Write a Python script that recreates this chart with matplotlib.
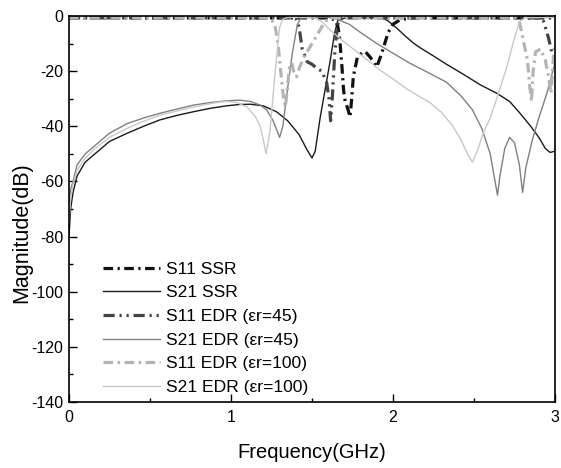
import matplotlib
matplotlib.use("Agg")
import matplotlib.pyplot as plt
from matplotlib.ticker import MultipleLocator

plt.rcParams['font.family'] = ['Liberation Sans', 'DejaVu Sans']
plt.rcParams['axes.unicode_minus'] = False

# ---- data ----
s21_ssr_x = [0.0, 0.01, 0.025, 0.05, 0.1, 0.15, 0.25, 0.36, 0.46, 0.56, 0.67, 0.77, 0.87, 0.97,
             1.05, 1.12, 1.2, 1.28, 1.35, 1.42, 1.47, 1.5, 1.52, 1.55, 1.58, 1.61, 1.64, 1.66,
             1.7, 1.8, 1.9, 1.94, 1.97, 2.02, 2.08, 2.13, 2.17, 2.25, 2.33, 2.43, 2.54, 2.64,
             2.72, 2.78, 2.85, 2.9, 2.94, 2.97, 3.0]
s21_ssr_y = [-80, -70, -64, -58, -53, -50.5, -45.5, -42.5, -40, -37.7, -36, -34.7, -33.5, -32.6,
             -32.1, -32.0, -32.6, -34.7, -38, -43, -48.6, -51.5, -49, -37, -27, -17, -6, -1.5,
             -0.8, -0.7, -0.6, -0.8, -1.8, -4.2, -7.5, -10, -11.6, -14.5, -17.5, -21, -25, -28,
             -31, -35, -40, -44, -48, -49.5, -49]

s21_e45_x = [0.0, 0.01, 0.025, 0.05, 0.1, 0.15, 0.25, 0.36, 0.46, 0.56, 0.67, 0.77, 0.87, 0.97,
             1.05, 1.12, 1.18, 1.22, 1.26, 1.3, 1.32, 1.35, 1.38, 1.41, 1.43, 1.5, 1.6, 1.65,
             1.7, 1.73, 1.8, 1.9, 2.0, 2.1, 2.2, 2.33, 2.42, 2.49, 2.55, 2.6, 2.63, 2.645,
             2.66, 2.69, 2.72, 2.75, 2.78, 2.8, 2.82, 2.86, 2.9, 2.95, 3.0]
s21_e45_y = [-68, -63, -60, -54, -50, -47.5, -42.5, -39, -37, -35.3, -33.7, -32.3, -31.4, -30.8,
             -30.5, -31, -32.3, -34, -38, -44, -40, -26, -13, -3, -0.8, -0.5, -0.5, -1,
             -2.3, -3, -6, -10, -13.5, -17, -20, -24, -29, -34, -41, -50, -60, -65,
             -58, -48, -44, -46, -54, -64, -55, -45, -37, -28, -17]

s21_e100_x = [0.0, 0.01, 0.025, 0.05, 0.1, 0.15, 0.25, 0.36, 0.46, 0.56, 0.67, 0.77, 0.87, 0.93,
              0.98, 1.03, 1.1, 1.15, 1.18, 1.2, 1.216, 1.24, 1.27, 1.3, 1.32, 1.35, 1.45, 1.52,
              1.56, 1.61, 1.7, 1.8, 1.92, 2.1, 2.23, 2.3, 2.37, 2.42, 2.46, 2.49, 2.52, 2.56,
              2.6, 2.64, 2.7, 2.75, 2.78, 2.82, 3.0]
s21_e100_y = [-75, -66, -61, -56, -51.5, -48.6, -44, -40.7, -38.2, -36, -34.4, -33, -31.8, -31.2,
              -31, -31.3, -33, -36.5, -40, -45, -50, -42, -22, -4, -1.2, -0.5, -0.5, -0.8,
              -2, -5, -9.5, -14, -19.6, -27, -31.5, -35, -40, -45, -50, -53, -49, -42,
              -37, -30, -19, -8, -2, -0.6, -0.6]

s11_ssr_x = [0.0, 1.6, 1.62, 1.645, 1.66, 1.67, 1.685, 1.695, 1.705, 1.72, 1.735, 1.745, 1.755,
             1.78, 1.81, 1.83, 1.86, 1.9, 1.93, 1.97, 2.0, 2.04, 2.1, 3.0]
s11_ssr_y = [-0.7, -0.7, -0.9, -1.5, -4, -7.6, -18.5, -27, -31, -33.5, -36.6, -30, -22,
             -15, -13.2, -13, -15, -18.5, -13.6, -6, -3, -1.5, -0.7, -0.7]

s11_e45_x = [0.0, 1.38, 1.40, 1.42, 1.44, 1.47, 1.50, 1.53, 1.56, 1.59, 1.605, 1.615, 1.625,
             1.64, 1.655, 1.67, 1.7, 2.9, 2.93, 2.96, 2.98, 3.0]
s11_e45_y = [-0.7, -0.7, -1, -4, -12, -16.6, -17.5, -19, -20, -24, -30, -38, -30,
             -14, -4, -1, -0.7, -0.7, -2, -8, -13, -16]

s11_e100_x = [0.0, 1.24, 1.27, 1.29, 1.31, 1.325, 1.335, 1.345, 1.36, 1.375, 1.39, 1.405, 1.42,
              1.45, 1.5, 1.55, 1.58, 1.62, 2.76, 2.78, 2.80, 2.83, 2.845, 2.855, 2.865, 2.88,
              2.91, 2.94, 2.96, 2.975, 2.99, 3.0]
s11_e100_y = [-0.7, -0.7, -3, -10, -22, -30, -33, -28, -19, -17, -21, -22, -19,
              -15, -10, -5, -2, -0.7, -0.7, -2, -7.6, -16, -26, -31, -20, -13,
              -12, -16, -22, -28, -15, -10]

labels = ["S11 SSR", "S21 SSR", "S11 EDR (\u03b5r=45)", "S21 EDR (\u03b5r=45)",
          "S11 EDR (\u03b5r=100)", "S21 EDR (\u03b5r=100)"]

fig = plt.figure(figsize=(5.61, 4.68), dpi=100)
ax = fig.add_axes([69/561, 1-402/468, (555-69)/561, (402-16)/468])

ax.plot(s11_ssr_x, s11_ssr_y, color="#111111", lw=2.3, ls=(0, (3, 1.4, 0.7, 1.4)), label=labels[0])
ax.plot(s21_ssr_x, s21_ssr_y, color="#1a1a1a", lw=1.0, label=labels[1])
ax.plot(s11_e45_x, s11_e45_y, color="#444444", lw=2.3, ls=(0, (3.5, 1.5, 0.7, 1.5, 0.7, 1.5)), label=labels[2])
ax.plot(s21_e45_x, s21_e45_y, color="#808080", lw=1.0, label=labels[3])
ax.plot(s11_e100_x, s11_e100_y, color="#b4b4b4", lw=2.3, ls=(0, (3, 1.4, 0.8, 1.4)), label=labels[4])
ax.plot(s21_e100_x, s21_e100_y, color="#c8c8c8", lw=1.0, label=labels[5])

ax.set_xlim(0, 3)
ax.set_ylim(-140, 0)
ax.xaxis.set_major_locator(MultipleLocator(1))
ax.xaxis.set_minor_locator(MultipleLocator(0.5))
ax.yaxis.set_major_locator(MultipleLocator(20))
ax.yaxis.set_minor_locator(MultipleLocator(10))
ax.tick_params(which="both", direction="in", top=False, right=False, labelsize=11.5, width=1.0)
ax.tick_params(axis="x", which="major", length=6, pad=6)
ax.tick_params(axis="y", which="major", length=6, pad=4)
ax.tick_params(which="minor", length=3)
for s in ax.spines.values():
    s.set_linewidth(1.2)

ax.set_xlabel("Frequency(GHz)", fontsize=14.5)
ax.xaxis.set_label_coords(0.5, (402 - 453) / 386)
ax.xaxis.label.set_va("center")
ax.set_ylabel("Magnitude(dB)", fontsize=15.5)
ax.yaxis.set_label_coords((22 - 69) / 486, (402 - 233) / 386)
ax.yaxis.label.set_va("center")

ax.legend(loc="lower left", bbox_to_anchor=(0.056, 0.0), frameon=False, fontsize=12.6,
          handlelength=3.26, handletextpad=0.3, labelspacing=0.48, borderaxespad=0)

fig.savefig("out.png", dpi=100)
